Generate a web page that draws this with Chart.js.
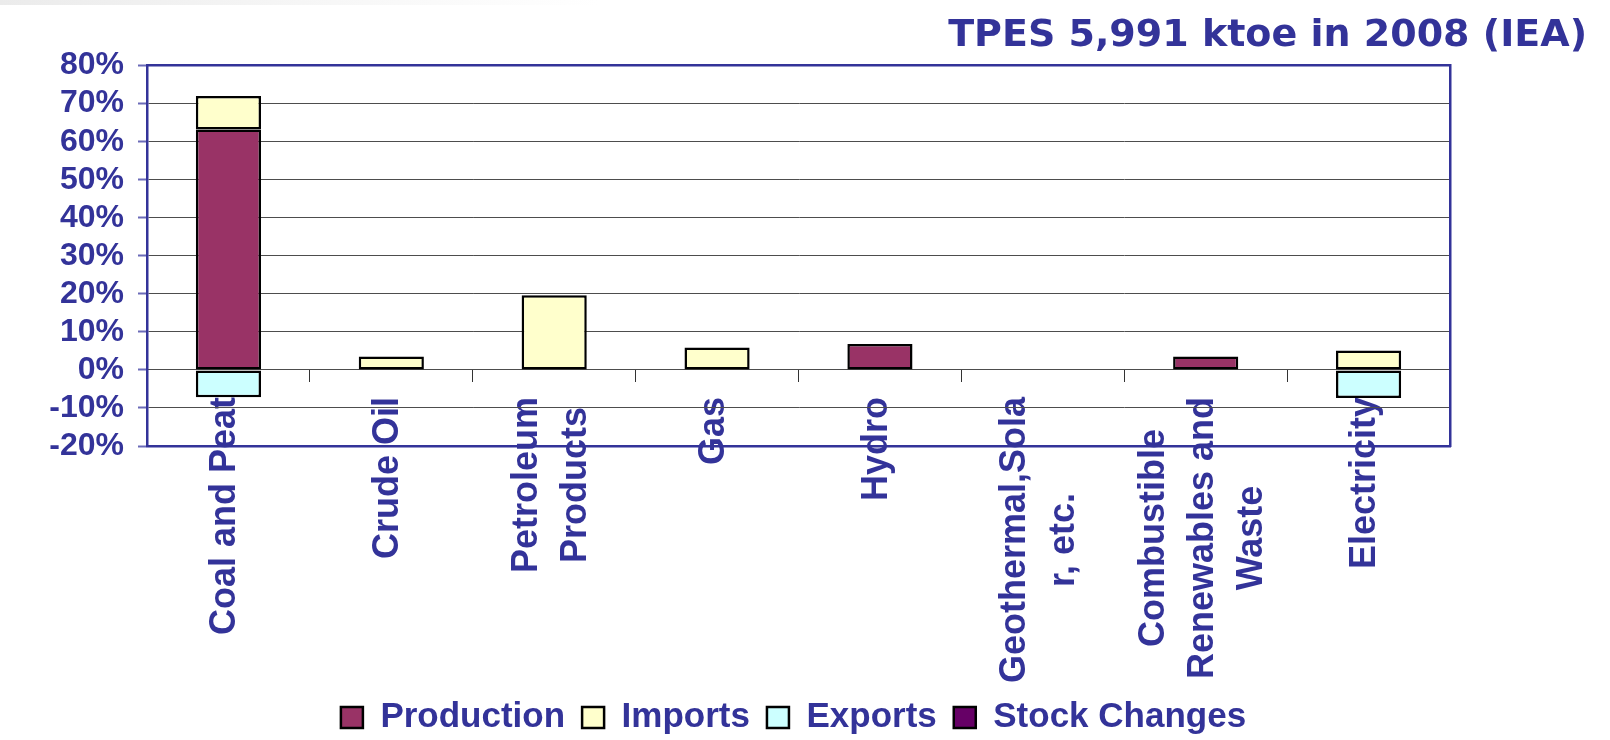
<!DOCTYPE html>
<html>
<head>
<meta charset="utf-8">
<title>TPES 5,991 ktoe in 2008 (IEA)</title>
<script src="https://cdn.jsdelivr.net/npm/chart.js@4.4.1/dist/chart.umd.min.js"></script>
<style>
    html, body {
        margin: 0;
        padding: 0;
        overflow: hidden;
        background:
            linear-gradient(to right, #ebebeb 0, #f6f6f6 300px, rgba(255,255,255,0) 600px) top left / 100% 5px no-repeat,
            linear-gradient(to right, #ebebeb 0, #ebebeb 8px, #ffffff 8px);
    }
    #chart-wrap {
        position: absolute;
        left: 0;
        top: 0;
        width: 1610px;
        height: 745px;
    }
</style>
</head>
<body>
<div id="chart-wrap"><canvas id="tpesChart"></canvas></div>
<script>
// categories (multi-line, as in the original axis)
const categories = [
    ['Coal and Peat'],
    ['Crude Oil'],
    ['Petroleum', 'Products'],
    ['Gas'],
    ['Hydro'],
    ['Geothermal,Sola', 'r, etc.'],
    ['Combustible', 'Renewables and', 'Waste'],
    ['Electricity']
];

// shares of TPES, in %
const production   = [63.2, null, null, null, 6.8, null, 3.5, null];
const imports      = [8.8, 3.5, 19.6, 5.9, null, null, null, 5.1];
const exports      = [-7.2, null, null, null, null, null, null, -7.4];
const stockChanges = [null, null, null, null, null, null, null, null];

const yMin = -20;
const yMax = 80;
const yStep = 10;

const titleText = 'TPES 5,991 ktoe in 2008 (IEA)';

document.addEventListener('DOMContentLoaded', function() {
    const navy = '#333399';
    const arialBold = '"Liberation Sans", Arial, sans-serif';

    // category names are drawn rotated, lines centred on each other like the source
    const categoryLabels = {
        id: 'categoryLabels',
        beforeDraw(chart) {
            const ctx = chart.ctx;
            const xScale = chart.scales.x;
            const top = chart.scales.y.getPixelForValue(0) + 27;
            const lineGap = 49;
            ctx.save();
            ctx.font = 'bold 36px ' + arialBold;
            ctx.fillStyle = navy;
            ctx.textAlign = 'center';
            ctx.textBaseline = 'middle';
            chart.data.labels.forEach((lines, i) => {
                const longest = Math.max(...lines.map(l => ctx.measureText(l).width));
                const cx = xScale.getPixelForValue(i) - 3;
                const cy = top + longest / 2;
                lines.forEach((line, j) => {
                    ctx.save();
                    ctx.translate(cx + (j - (lines.length - 1) / 2) * lineGap, cy);
                    ctx.rotate(-Math.PI / 2);
                    ctx.fillText(line, 0, 0);
                    ctx.restore();
                });
            });
            ctx.restore();
        }
    };

    function series(label, values, colour) {
        return {
            label: label,
            data: values,
            backgroundColor: colour,
            borderColor: '#000000',
            borderWidth: 2.5,
            borderSkipped: false,
            xAxisID: 'x',
            yAxisID: 'y'
        };
    }

    const frame = { display: true, color: navy, width: 2.5 };

    const ctx = document.getElementById('tpesChart').getContext('2d');
    new Chart(ctx, {
        type: 'bar',
        data: {
            labels: categories,
            datasets: [
                series('Production', production, '#993366'),
                series('Imports', imports, '#FFFFCC'),
                series('Exports', exports, '#CCFFFF'),
                series('Stock Changes', stockChanges, '#660066')
            ]
        },
        plugins: [categoryLabels],
        options: {
            responsive: true,
            maintainAspectRatio: false,
            animation: false,
            categoryPercentage: 1,
            barPercentage: 0.4,
            layout: { padding: { left: 0, right: 23, top: 0, bottom: 0 } },
            plugins: {
                title: {
                    display: true,
                    text: titleText,
                    align: 'end',
                    color: navy,
                    font: { family: '"DejaVu Sans", Verdana, sans-serif', size: 38, weight: 'bold' },
                    padding: { top: 13, bottom: 7 }
                },
                legend: {
                    position: 'bottom',
                    labels: {
                        color: navy,
                        font: { family: arialBold, size: 35, weight: 'bold' },
                        boxWidth: 22,
                        boxHeight: 21,
                        padding: 17
                    }
                },
                tooltip: { enabled: false }
            },
            scales: {
                x: {
                    type: 'category',
                    position: { y: 0 },
                    stacked: true,
                    offset: true,
                    ticks: { display: false },
                    grid: {
                        offset: true,
                        drawOnChartArea: false,
                        drawTicks: true,
                        tickLength: 12,
                        tickColor: '#333333',
                        tickWidth: 1
                    },
                    border: { display: true, color: '#4d4d4d', width: 1 }
                },
                x2: {
                    type: 'category',
                    position: 'top',
                    ticks: { display: false },
                    grid: { display: false, drawTicks: false },
                    border: frame,
                    afterFit(scale) { scale.height = 0; }
                },
                xl: {
                    type: 'category',
                    position: 'bottom',
                    ticks: { display: false },
                    grid: { display: false, drawTicks: false },
                    border: frame,
                    afterFit(scale) { scale.height = 237; }
                },
                y: {
                    type: 'linear',
                    position: 'left',
                    stacked: true,
                    min: yMin,
                    max: yMax,
                    ticks: {
                        stepSize: yStep,
                        autoSkip: false,
                        padding: 14,
                        color: navy,
                        font: { family: arialBold, size: 32, weight: 'bold', lineHeight: 1 },
                        callback: v => v + '%'
                    },
                    grid: {
                        color: '#4d4d4d',
                        lineWidth: 1,
                        tickLength: 9,
                        tickColor: '#6b6bb8',
                        tickWidth: 2
                    },
                    border: frame,
                    afterFit(scale) { scale.width = 147; }
                },
                y2: {
                    type: 'linear',
                    position: 'right',
                    min: yMin,
                    max: yMax,
                    ticks: { display: false },
                    grid: { display: false, drawTicks: false },
                    border: frame,
                    afterFit(scale) { scale.width = 137; }
                }
            }
        }
    });
});
</script>
</body>
</html>
